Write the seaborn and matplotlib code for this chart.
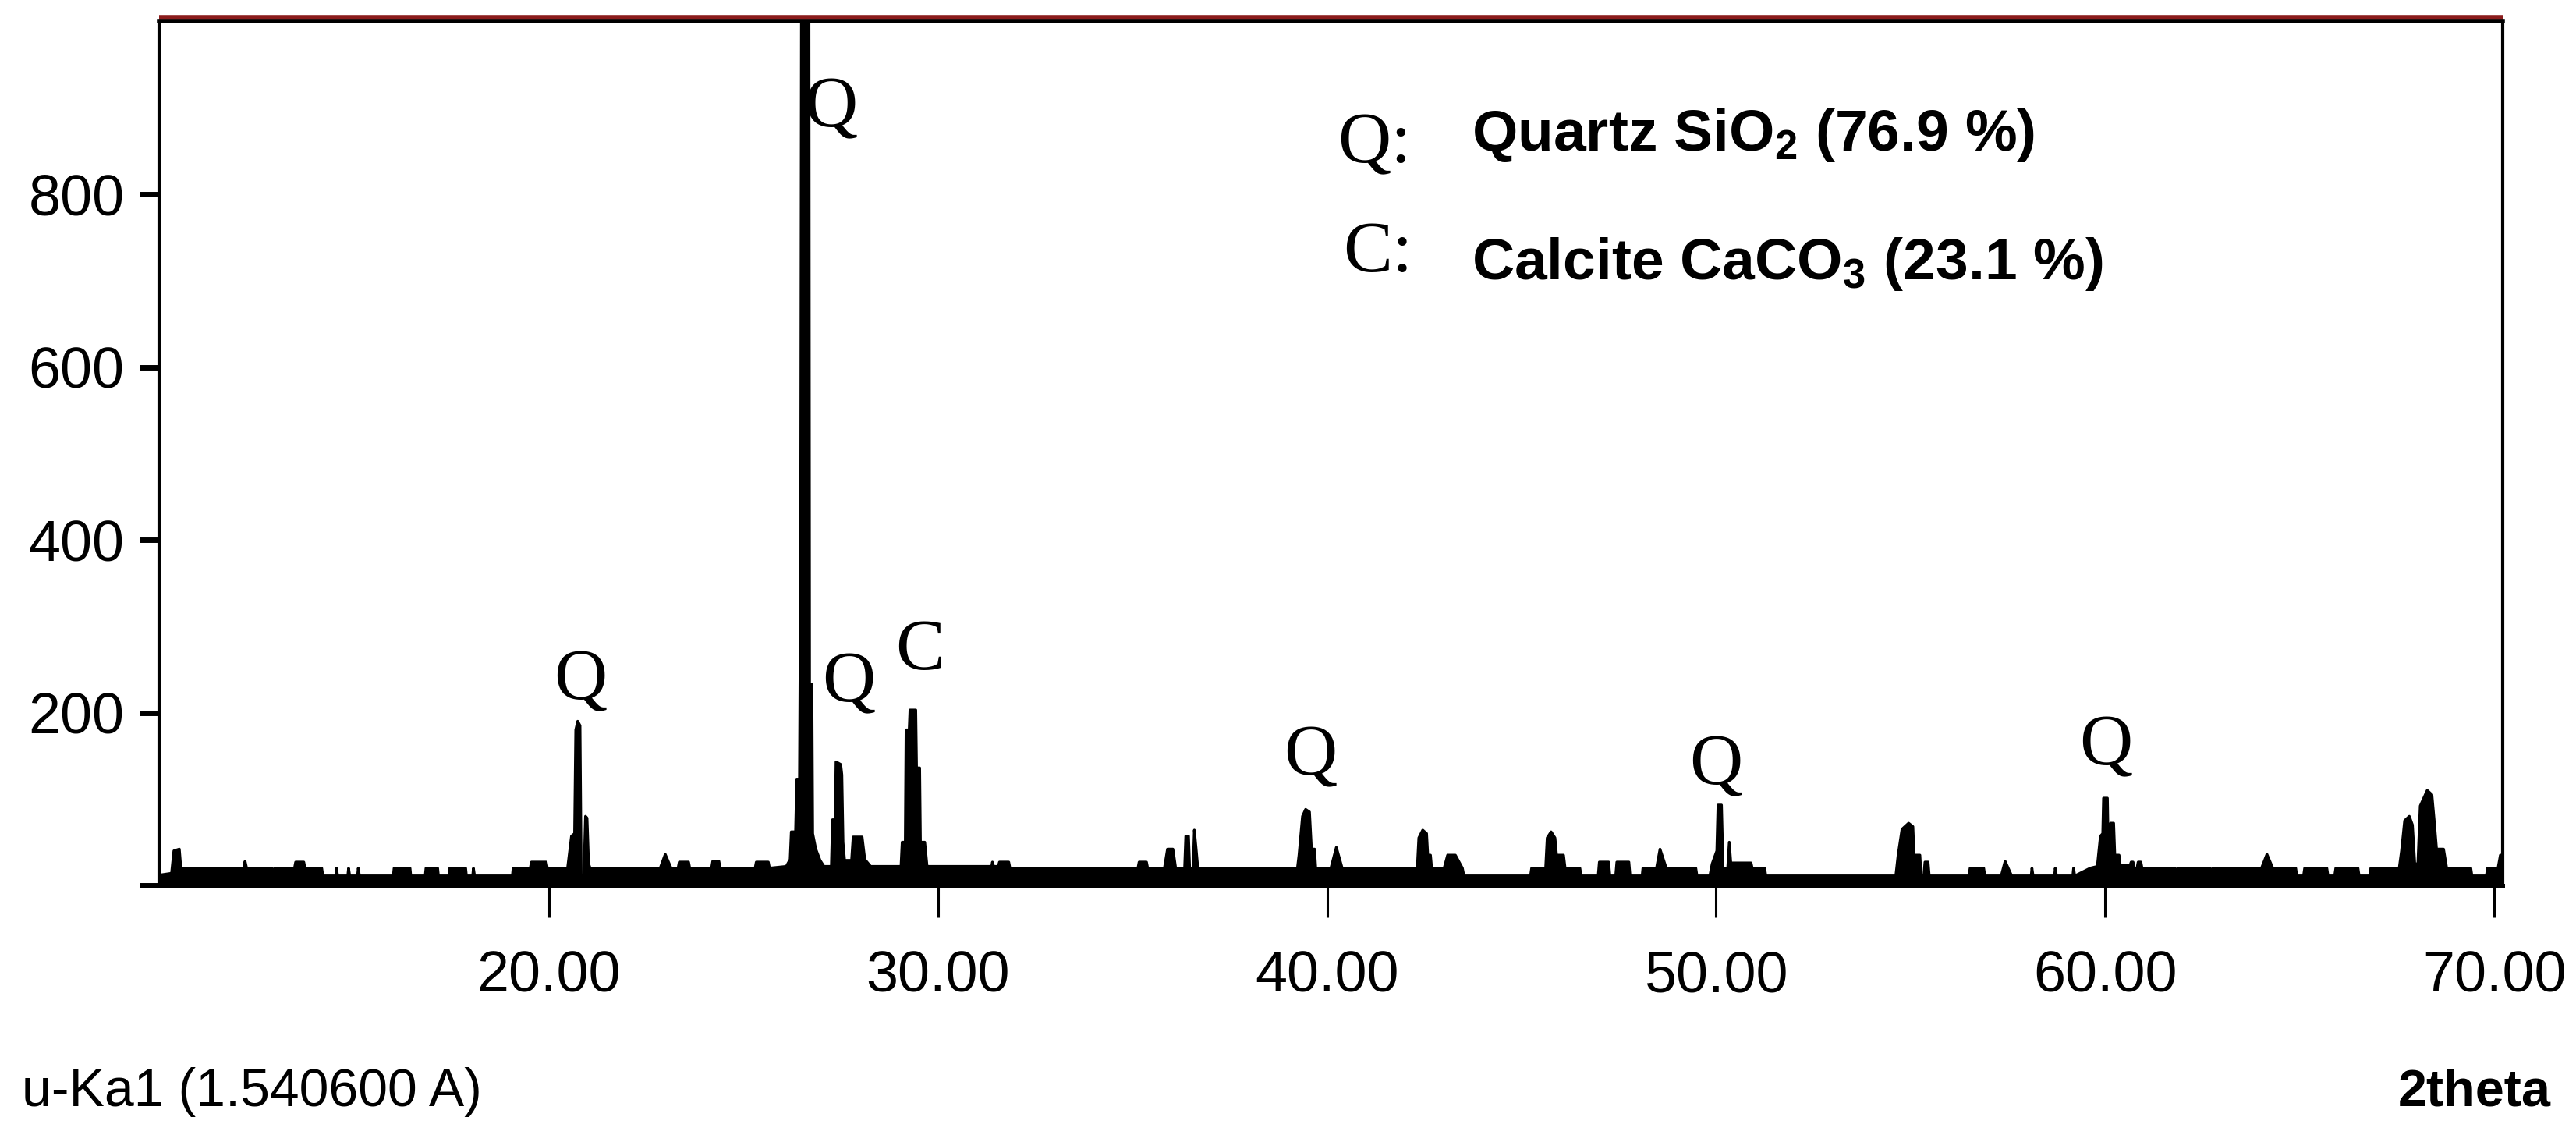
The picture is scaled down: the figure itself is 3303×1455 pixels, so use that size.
import numpy as np
import pandas as pd
import matplotlib.pyplot as plt
from matplotlib.transforms import offset_copy
import seaborn as sb

sb.set_style('white')
plt.rcParams['font.family'] = ['Liberation Sans', 'DejaVu Sans']
plt.rcParams['mathtext.fontset'] = 'custom'
plt.rcParams['mathtext.rm'] = 'Liberation Sans:bold'
plt.rcParams['mathtext.it'] = 'Liberation Sans:bold'
plt.rcParams['mathtext.bf'] = 'Liberation Sans:bold'

# XRD trace (2theta in degrees, counts)
two_theta = [10.00, 10.30, 10.36, 10.50, 10.54,
             11.20, 11.22, 11.26, 12.16, 12.19, 12.23, 12.88, 12.91, 12.95,
             13.46, 13.49, 13.70, 13.73, 14.16, 14.19,
             14.52, 14.54, 14.57, 14.83, 14.85, 14.88, 15.08, 15.10, 15.13,
             16.00, 16.02, 16.43, 16.45, 16.82, 16.84, 17.14, 17.16,
             17.43, 17.45, 17.86, 17.88, 18.04, 18.06, 18.09,
             19.06, 19.08, 19.52, 19.55, 19.93, 19.96,
             20.48, 20.52, 20.58, 20.66, 20.69, 20.74, 20.80, 20.83, 20.90, 20.94, 20.98, 21.02, 21.06,
             22.86, 22.99, 23.14, 23.32, 23.35, 23.59, 23.62,
             24.18, 24.21, 24.37, 24.40, 25.30, 25.33, 25.64, 25.67,
             26.10, 26.20, 26.23, 26.34, 26.37, 26.44, 26.47, 26.50, 26.68, 26.70, 26.76, 26.78, 26.86, 26.97, 27.07, 27.26,
             27.29, 27.36, 27.38, 27.50, 27.53, 27.56, 27.60, 27.78, 27.82, 28.05, 28.12, 28.27,
             29.05, 29.08, 29.16, 29.18, 29.26, 29.28, 29.43, 29.45, 29.53, 29.55, 29.66, 29.72,
             31.38, 31.40, 31.43, 31.55, 31.58, 31.82, 31.85,
             32.60, 32.62, 32.66, 33.30, 33.32, 33.36,
             35.14, 35.17, 35.36, 35.39, 35.82, 35.90, 36.04, 36.11,
             36.34, 36.37, 36.44, 36.47, 36.56, 36.59, 36.63, 36.68,
             37.30, 37.32, 37.36, 38.16, 38.18, 38.22,
             39.24, 39.28, 39.37, 39.45, 39.55, 39.60, 39.68, 39.71,
             40.10, 40.24, 40.39, 41.12, 41.14, 41.18,
             42.32, 42.36, 42.46, 42.56, 42.59, 42.66, 42.69,
             43.01, 43.10, 43.30, 43.48, 43.52,
             45.23, 45.26, 45.62, 45.66, 45.76, 45.86, 45.90, 46.08, 46.12,
             46.50, 46.53, 46.97, 47.00, 47.24, 47.27, 47.42, 47.45, 47.76, 47.79,
             48.10, 48.12, 48.47, 48.56, 48.72, 49.48, 49.51,
             49.84, 49.90, 50.02, 50.05, 50.14, 50.18, 50.30, 50.34, 50.38, 50.90, 50.93, 51.25, 51.28,
             54.62, 54.68, 54.78, 54.95, 55.06, 55.09, 55.24, 55.27, 55.34, 55.37, 55.45, 55.48,
             56.50, 56.53, 56.88, 56.91, 57.33, 57.43, 57.60,
             58.10, 58.12, 58.15, 58.70, 58.72, 58.75, 59.17, 59.19, 59.22,
             59.62, 59.80, 59.88, 59.94, 59.96, 60.06, 60.09, 60.12, 60.14, 60.22, 60.25, 60.36, 60.39, 60.64,
             60.67, 60.72, 60.75, 60.82, 60.85, 60.92, 60.95,
             61.80, 61.83, 61.87, 62.70, 62.73, 62.77,
             64.02, 64.16, 64.31,
             64.90, 64.93, 65.10, 65.13, 65.70, 65.73, 65.90, 65.93, 66.50, 66.53, 66.80, 66.83,
             67.56, 67.62, 67.70, 67.82, 67.90, 67.96, 68.04, 68.10, 68.28, 68.40, 68.46, 68.52, 68.70, 68.78,
             69.40, 69.43, 69.80, 69.83,
             70.10, 70.16, 70.22]

counts = [12, 14, 40, 42, 20,
          20, 11, 20, 20, 28, 20, 20, 11, 20,
          20, 27, 27, 20, 20, 11,
          11, 20, 11, 11, 20, 11, 11, 20, 11,
          11, 20, 20, 11, 11, 20, 20, 11,
          11, 20, 20, 11, 11, 20, 11,
          11, 20, 20, 27, 27, 20,
          20, 35, 57, 60, 180, 190, 185, 12, 12, 80, 78, 25, 20,
          20, 36, 20, 20, 27, 27, 20,
          20, 28, 28, 20, 20, 27, 27, 20,
          22, 30, 62, 62, 123, 123, 386, 1300, 1300, 233, 233, 60, 42, 29, 22, 22,
          76, 76, 143, 140, 128, 50, 29, 29, 56, 56, 30, 22,
          22, 50, 50, 180, 180, 203, 203, 136, 136, 50, 50, 22,
          22, 27, 22, 22, 27, 27, 20,
          20, 11, 20, 20, 11, 20,
          20, 27, 27, 20, 20, 42, 42, 20,
          20, 57, 57, 20, 20, 64, 45, 20,
          20, 11, 20, 20, 11, 20,
          20, 35, 80, 88, 85, 42, 42, 20,
          20, 44, 20, 20, 11, 20,
          20, 55, 64, 60, 35, 35, 20,
          20, 35, 35, 20, 11,
          11, 20, 20, 55, 62, 55, 35, 35, 20,
          20, 11, 11, 27, 27, 11, 11, 27, 27, 11,
          11, 20, 20, 42, 20, 20, 11,
          11, 25, 40, 93, 93, 20, 20, 50, 26, 26, 20, 20, 11,
          11, 35, 65, 72, 68, 35, 35, 11, 11, 27, 27, 11,
          11, 20, 20, 11, 11, 28, 11,
          11, 20, 11, 11, 20, 11, 11, 20, 11,
          20, 22, 57, 60, 101, 101, 20, 20, 72, 72, 35, 35, 23, 23,
          27, 27, 20, 20, 27, 27, 20,
          20, 11, 20, 20, 11, 20,
          20, 36, 20,
          20, 11, 11, 20, 20, 11, 11, 20, 20, 11, 11, 20,
          20, 40, 75, 80, 70, 25, 25, 92, 110, 105, 75, 42, 42, 20,
          20, 11, 11, 20,
          20, 35, 35]

# peak labels
peak_pos = [20.82, 27.25, 27.70, 29.54, 39.57, 49.99, 60.02]
peak_phase = ['Q', 'Q', 'Q', 'C', 'Q', 'Q', 'Q']
peak_label_y = [215, 878, 213, 250, 128, 117, 140]

# phase key
phase_keys = ['Q:', 'C:']
phase_names = ['Quartz SiO$_2$ (76.9 %)', 'Calcite CaCO$_3$ (23.1 %)']

x_ticks = [20, 30, 40, 50, 60, 70]
y_ticks = [0, 200, 400, 600, 800]

xrd = pd.DataFrame({'two_theta': two_theta, 'counts': counts})

fig = plt.figure(figsize=(33.03, 14.55), dpi=100)
ax = fig.add_axes([0.06176, 0.21993, 0.90978, 0.76117])

ax.fill_between(xrd.two_theta, 0, xrd.counts, color='black', lw=0)
sb.lineplot(data=xrd, x='two_theta', y='counts', color='black', lw=2.5, ax=ax)

ax.set_xlim(9.98, 70.22)
ax.set_ylim(0, 1000)
ax.set_xlabel('')
ax.set_ylabel('')

ax.set_xticks(x_ticks)
ax.set_xticklabels(['%.2f' % t for t in x_ticks])
ax.set_yticks(y_ticks)
ax.set_yticklabels(['' if t == 0 else str(t) for t in y_ticks])
ax.tick_params(axis='y', left=True, direction='out', length=18, width=5, pad=14,
               labelsize=53, colors='black')
ax.tick_params(axis='x', bottom=True, direction='out', length=29.5, width=2.2, pad=30,
               labelsize=53, colors='black')

for side in ['left', 'right']:
    ax.spines[side].set_linewidth(3)
    ax.spines[side].set_color('black')
ax.spines['bottom'].set_linewidth(3.6)
ax.spines['bottom'].set_color('black')
ax.spines['top'].set_linewidth(4)
ax.spines['top'].set_color('black')

# dark red rule sitting on the top frame
red_tr = offset_copy(ax.transAxes, fig=fig, x=0, y=5, units='dots')
ax.plot([0, 1], [1, 1], transform=red_tr, color='#8b1c1c', lw=4, clip_on=False,
        solid_capstyle='butt')

for pos, phase, ly in zip(peak_pos, peak_phase, peak_label_y):
    ax.text(pos, ly, phase, ha='center', va='baseline', fontsize=68,
            family='Liberation Serif', color='black')

key_x = [40.27, 40.41]
key_y = [837, 711]
name_y = [851, 702]
for k, name, kx, ky, ny in zip(phase_keys, phase_names, key_x, key_y, name_y):
    ax.text(kx, ky, k, ha='left', va='baseline', fontsize=68,
            family='Liberation Serif', color='black')
    ax.text(43.72, ny, name, ha='left', va='baseline', fontsize=54,
            family='Liberation Sans', fontweight='bold', color='black')

fig.text(28 / 3303, 1 - 1418 / 1455, 'u-Ka1 (1.540600 A)', ha='left', va='baseline',
         fontsize=49, color='black')
fig.text(3271 / 3303, 1 - 1417 / 1455, '2theta', ha='right', va='baseline',
         fontsize=48, fontweight='bold', color='black')

fig.savefig('out.png', dpi=100)
